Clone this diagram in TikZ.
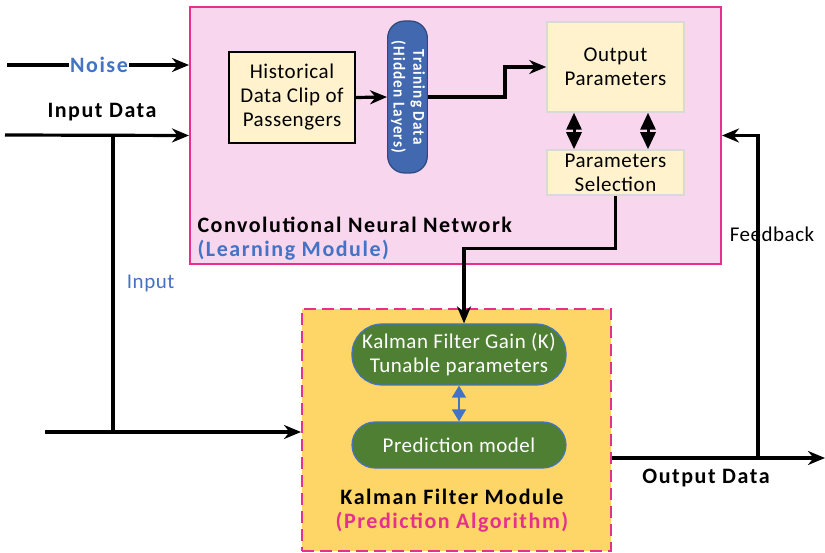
\documentclass[tikz,border=0pt]{standalone}
\usepackage{fontspec}
\setmainfont{Carlito}[LetterSpace=2.5, BoldFeatures={LetterSpace=7}]
\usetikzlibrary{arrows.meta}

\definecolor{cnnpink}{HTML}{F8D7EE}
\definecolor{framepink}{HTML}{E5308C}
\definecolor{kfgold}{HTML}{FDD667}
\definecolor{paleyellow}{HTML}{FFF2CC}
\definecolor{pillblue}{HTML}{4268B0}
\definecolor{pillgreen}{HTML}{4F7F33}
\definecolor{textblue}{HTML}{4472C4}

\tikzset{
  link/.style={line width=3.2pt, -{Stealth[length=17pt,width=14pt]}},
  wire/.style={line width=3.2pt},
  twoway/.style={line width=3pt, {Triangle[length=17pt,width=15pt]}-{Triangle[length=17pt,width=15pt]}},
  parambox/.style={draw=black!15, line width=1.5pt, fill=paleyellow, align=center, minimum width=137pt},
  greenpill/.style={draw=textblue, line width=1.2pt, fill=pillgreen, text=white, align=center, minimum width=214pt},
  lbl/.style={font=\fontsize{21}{24}\selectfont},
  boldlbl/.style={font=\fontsize{22}{25}\selectfont\bfseries}
}

\begin{document}
\begin{tikzpicture}[x=1pt,y=-1pt]
\useasboundingbox (0,0) rectangle (825,553);

% learning module
\node[draw=framepink, line width=2pt, fill=cnnpink, minimum width=531pt, minimum height=257pt] (cnn) at (455.5,135.5) {};
\node[draw=black, line width=2pt, fill=paleyellow, minimum width=126pt, minimum height=91pt, align=center, lbl] (hist) at (292,97.5) {Historical\\Data Clip of\\Passengers};
\node[draw=pillblue!70!black, line width=1.2pt, fill=pillblue, text=white, minimum width=35pt, minimum height=152pt, rounded corners=17pt, font=\bfseries, inner sep=0pt] (train) at (407.5,97) {\rotatebox{-90}{\resizebox{112pt}{24pt}{\begin{tabular}{@{}c@{}}Training Data\\(Hidden Layers)\end{tabular}}}};
\node[parambox, minimum height=90pt, lbl] (outp) at (615.5,67) {Output\\Parameters};
\node[parambox, minimum height=45pt, lbl] (sel) at (615.5,172.5) {Parameters\\Selection};
\node[boldlbl, anchor=west] (cnntitle) at (194,225) {Convolutional Neural Network};
\node[boldlbl, anchor=west, text=textblue] (cnnsub) at (194,250) {(Learning Module)};

% prediction module
\node[draw=framepink, line width=2pt, dashed, dash pattern=on 12pt off 6pt, fill=kfgold, minimum width=309pt, minimum height=242pt] (kf) at (456.5,430) {};
\node[greenpill, minimum height=61pt, rounded corners=30pt, lbl] (gain) at (459,354.5) {Kalman Filter Gain (K)\\Tunable parameters};
\node[greenpill, minimum height=46pt, rounded corners=23pt, lbl] (pred) at (459,445) {Prediction model};
\node[boldlbl] (kftitle) at (452,497) {Kalman Filter Module};
\node[boldlbl, text=framepink] (kfsub) at (452,522) {(Prediction Algorithm)};

% free ends
\coordinate (noisein) at (7,65);
\coordinate (datain) at (5,135);
\coordinate (split) at (113,135);
\coordinate (kfin) at (45,432);
\coordinate (outend) at (825,458);
\coordinate (fbsplit) at (758,458);

% connectors
\draw[link] (hist.east) -- (train.west);
\draw[link] (train.east) -- ++(77,0) |- (outp.west);
\draw[twoway] ([xshift=-41.5pt]outp.south) -- ([xshift=-41.5pt]sel.north);
\draw[twoway] ([xshift=32.5pt]outp.south) -- ([xshift=32.5pt]sel.north);
\draw[link] (sel.south) -- ++(0,53) -| ([xshift=5pt]gain.north);
\draw[line width=1.5pt, textblue, {Triangle[length=12pt,width=14pt]}-{Triangle[length=12pt,width=14pt]}] (gain.south) -- (pred.north);

\draw[link] (noisein) -- (noisein -| cnn.west);
\node[boldlbl, text=textblue, fill=white, inner sep=1pt] (noise) at (99,65) {Noise};
\draw[link] (datain) -- (cnn.west);
\node[boldlbl] (datalbl) at (102,112) {Input Data};
\draw[wire] (split) -- (split |- kfin) node[midway, right=9pt, lbl, text=textblue] {Input};
\draw[link] (kfin) -- (kfin -| kf.west);

\draw[link] (outend -| kf.east) -- (outend);
\node[boldlbl] (outlbl) at (706,478) {Output Data};
\node[lbl] (fblbl) at (772,234) {Feedback};
\draw[link] (fbsplit) |- (cnn.east);

\end{tikzpicture}
\end{document}
